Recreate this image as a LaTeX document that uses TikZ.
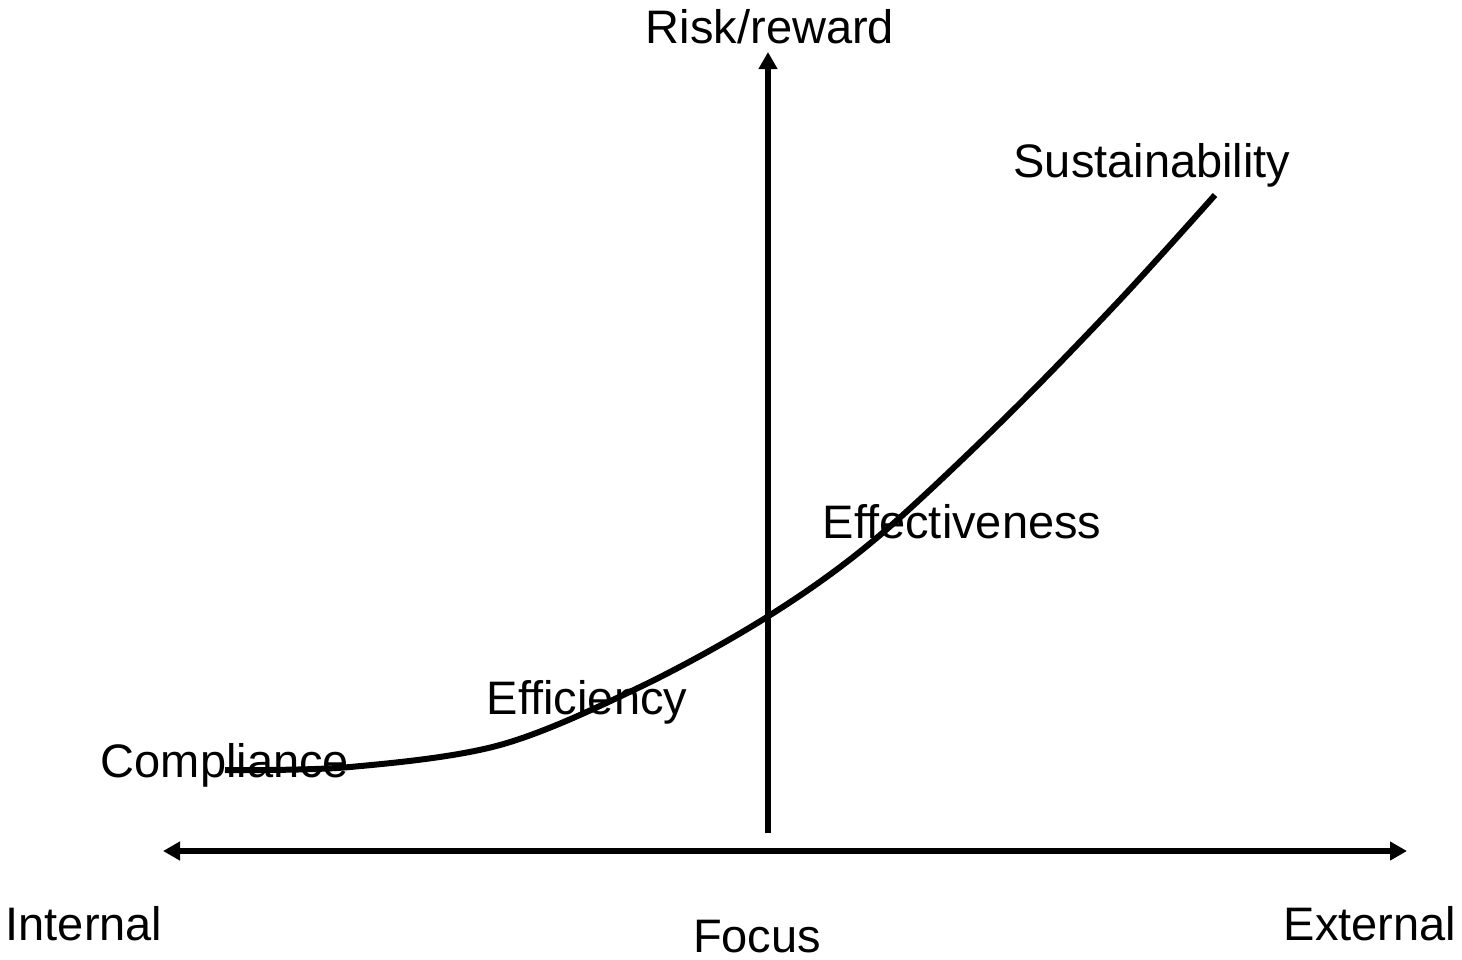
\documentclass[tikz,border=0pt]{standalone}
\usepackage{fontspec}
\setmainfont{Liberation Sans}
\usetikzlibrary{arrows.meta}
\begin{document}
\begin{tikzpicture}[x=1pt,y=-1pt,
  lbl/.style={font=\fontsize{47}{56}\selectfont, anchor=base, inner sep=0pt},
  tip/.tip={Triangle[length=17pt,width=18pt]},
  axis/.style={line width=5.5pt},
  curve/.style={line width=6pt, line join=round}]
\useasboundingbox (0,0) rectangle (1462,959);
% axes
\coordinate (hL) at (163,851);
\coordinate (hR) at (1407,851);
\coordinate (vB) at (768,833);
\coordinate (vT) at (768,52);
\draw[axis, tip-tip] (hL) -- (hR);
\draw[axis, -tip] (vB) -- (vT);
% curve
\draw[curve] plot[smooth, tension=0.55] coordinates {(225,770) (350,767) (500,745) (640,687) (767,617) (873,541) (1000,423) (1117,303) (1215,195)};
% labels
\node[lbl] (risk) at (770,43) {Risk/reward};
\node[lbl] (sus) at (1152,177) {Sustainability};
\node[lbl] (eff) at (962,538) {Effectiveness};
\node[lbl] (effi) at (587,714) {Efficiency};
\node[lbl] (comp) at (225,777) {Compliance};
\node[lbl] (int) at (84,940) {Internal};
\node[lbl] (focus) at (757,952) {Focus};
\node[lbl] (ext) at (1370,940) {External};
\end{tikzpicture}
\end{document}
